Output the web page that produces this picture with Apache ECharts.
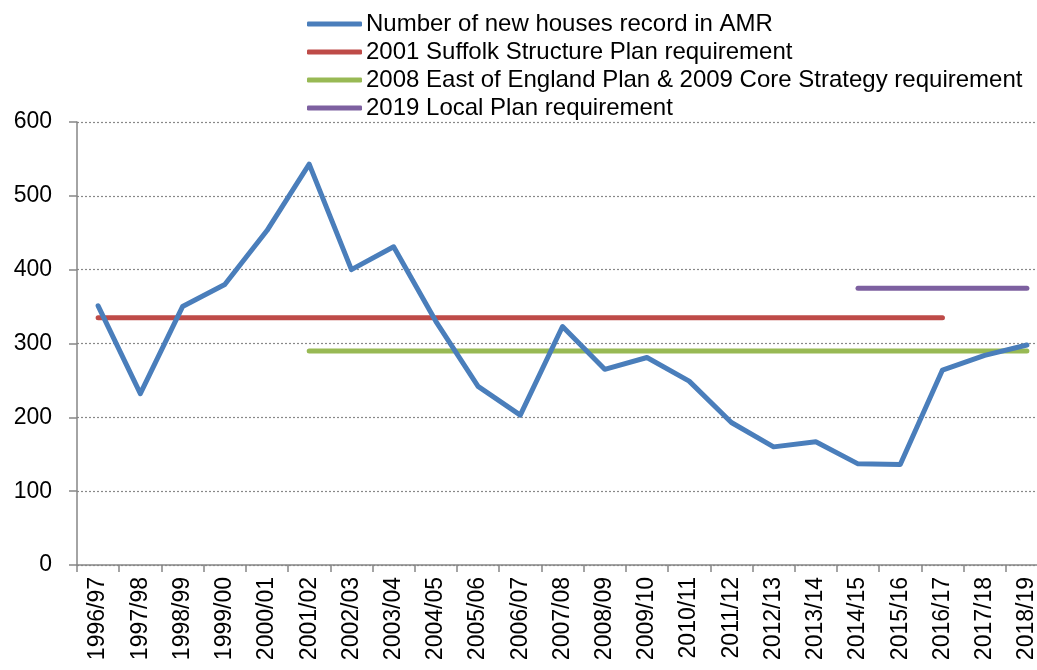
<!DOCTYPE html>
<html>
<head>
<meta charset="utf-8">
<script src="https://cdn.jsdelivr.net/npm/echarts@6/dist/echarts.min.js"></script>
<style>
  html, body { margin: 0; padding: 0; background: #fff; overflow: hidden; width: 1037px; height: 670px; }
  #chart { width: 1048px; height: 670px; }
</style>
</head>
<body>
<div id="chart"></div>
<script>
var categories = ['1996/97','1997/98','1998/99','1999/00','2000/01','2001/02','2002/03','2003/04','2004/05','2005/06','2006/07','2007/08','2008/09','2009/10','2010/11','2011/12','2012/13','2013/14','2014/15','2015/16','2016/17','2017/18','2018/19'];
var newHouses = [351, 232, 350, 380, 453, 543, 400, 431, 330, 242, 203, 323, 265, 281, 249, 193, 160, 167, 137, 136, 264, 284, 298];
var suffolkPlan = [335,335,335,335,335,335,335,335,335,335,335,335,335,335,335,335,335,335,335,335,335,null,null];
var eastEnglandPlan = [null,null,null,null,null,290,290,290,290,290,290,290,290,290,290,290,290,290,290,290,290,290,290];
var localPlan = [null,null,null,null,null,null,null,null,null,null,null,null,null,null,null,null,null,null,375,375,375,375,375];
var seriesNames = ['Number of new houses record in AMR','2001 Suffolk Structure Plan requirement','2008 East of England Plan & 2009 Core Strategy requirement','2019 Local Plan requirement'];
var seriesColors = ['#4A7EBB','#BE4B48','#98B954','#7D60A0'];
var yTicks = [0, 100, 200, 300, 400, 500, 600];

var chart = echarts.init(document.getElementById('chart'), null, {renderer: 'canvas'});
var font = '"Liberation Sans", Arial, sans-serif';
var dataSets = [newHouses, suffolkPlan, eastEnglandPlan, localPlan];
var series = dataSets.map(function (d, i) {
  return {
    name: seriesNames[i],
    type: 'line',
    data: d,
    symbol: 'none',
    connectNulls: false,
    lineStyle: { color: seriesColors[i], width: 5, cap: 'round', join: 'round' },
    itemStyle: { color: seriesColors[i] },
    z: i === 0 ? 3 : 2
  };
});
chart.setOption({
  animation: false,
  backgroundColor: '#ffffff',
  grid: { left: 77, right: 0, top: 122, bottom: 105, containLabel: false },
  legend: {
    orient: 'vertical',
    left: 307,
    top: 12,
    icon: 'roundRect',
    itemWidth: 55,
    itemHeight: 5,
    itemGap: 4,
    padding: 0,
    textStyle: { fontFamily: font, fontSize: 24, color: '#000', lineHeight: 24, padding: [0, 0, 0, -1] },
    data: seriesNames
  },
  xAxis: {
    type: 'category',
    data: categories,
    boundaryGap: true,
    axisLine: { lineStyle: { color: '#868686', width: 1.5 } },
    axisTick: { show: true, length: 7, lineStyle: { color: '#868686', width: 1.5 } },
    axisLabel: { rotate: 90, interval: 0, margin: 12, fontFamily: font, fontSize: 23, color: '#000' },
    splitLine: { show: false }
  },
  yAxis: {
    type: 'value',
    min: 0,
    max: 600,
    interval: 100,
    axisLine: { show: true, lineStyle: { color: '#868686', width: 1.5 } },
    axisTick: { show: true, length: 8, lineStyle: { color: '#868686', width: 1.5 } },
    axisLabel: { margin: 25, fontFamily: font, fontSize: 23, color: '#000',
      formatter: function (v) { return yTicks.indexOf(v) >= 0 ? String(v) : ''; } },
    splitLine: { show: true, lineStyle: { color: '#888888', width: 1.2, type: [2, 2] } }
  },
  series: series
});
</script>
</body>
</html>
